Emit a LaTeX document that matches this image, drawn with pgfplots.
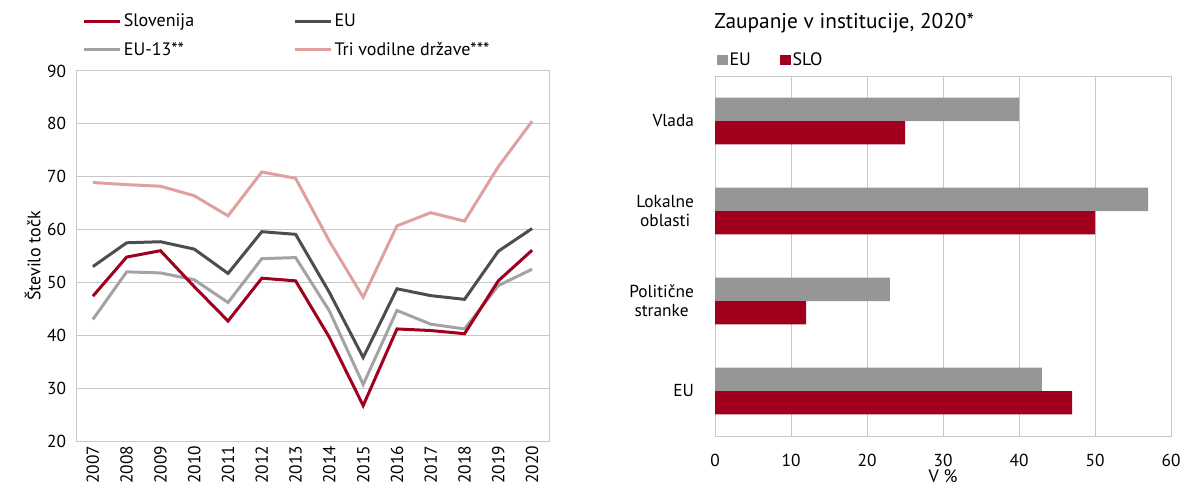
\documentclass[border=0pt]{standalone}
\usepackage{fontspec}
\setmainfont{PT Sans}
\usepackage{pgfplots}
\pgfplotsset{compat=1.18}
\definecolor{slo}{HTML}{A0001E}
\definecolor{eu}{HTML}{4D4D4D}
\definecolor{eu13}{HTML}{A3A3A3}
\definecolor{tri}{HTML}{E0A0A0}
\definecolor{bargray}{HTML}{969696}
\definecolor{gridc}{HTML}{C8C8C8}
\begin{document}
\begin{tikzpicture}
\useasboundingbox (0,0) rectangle (885pt,363.75pt);
\pgfplotsset{every axis/.append style={
  font=\fontsize{13.5}{15}\selectfont,
  tick label style={font=\fontsize{13}{14}\selectfont},
  /pgf/number format/assume math mode=true,
  axis line style={gridc, line width=0.75pt},
  grid style={gridc, line width=0.75pt},
  tick style={draw=none},
}}
\begin{axis}[
  at={(57pt,33pt)}, anchor=south west,
  scale only axis, width=354.75pt, height=277.5pt,
  xmin=-0.5, xmax=13.5, ymin=20, ymax=90,
  xtick={0,1,2,3,4,5,6,7,8,9,10,11,12,13},
  xticklabels={2007,2008,2009,2010,2011,2012,2013,2014,2015,2016,2017,2018,2019,2020},
  x tick label style={rotate=90, anchor=east},
  y tick label style={xshift=-4pt},
  ytick={20,30,...,90},
  ymajorgrids,
  ylabel={Število točk},
  ylabel style={yshift=-2pt},
  legend columns=2,
  legend cell align=left,
  legend image code/.code={\draw[#1] (0pt,0pt) -- (27pt,0pt);},
  legend style={at={(0,1)}, anchor=north west, xshift=2pt, yshift=46pt, draw=none, fill=none,
    row sep=8pt,
    /tikz/column 2/.style={column sep=73pt},
    nodes={inner xsep=1.5pt, inner ysep=1pt}},
]
\addlegendimage{slo, line width=2.25pt}
\addlegendentry{Slovenija}
\addlegendimage{eu, line width=2.25pt}
\addlegendentry{EU}
\addlegendimage{eu13, line width=2.25pt}
\addlegendentry{EU-13**}
\addlegendimage{tri, line width=2.25pt}
\addlegendentry{Tri vodilne države***}
\addplot[tri, line width=2.25pt, forget plot] coordinates {
(0,68.9) (1,68.5) (2,68.2) (3,66.4) (4,62.6) (5,70.9) (6,69.7) (7,57.8) (8,47.2) (9,60.7) (10,63.2) (11,61.6) (12,71.9) (13,80.5)};
\addplot[eu13, line width=2.25pt, forget plot] coordinates {
(0,43.0) (1,52.0) (2,51.8) (3,50.5) (4,46.2) (5,54.5) (6,54.7) (7,44.6) (8,30.7) (9,44.7) (10,42.1) (11,41.2) (12,49.4) (13,52.5)};
\addplot[eu, line width=2.25pt, forget plot] coordinates {
(0,53.0) (1,57.5) (2,57.7) (3,56.3) (4,51.7) (5,59.6) (6,59.1) (7,48.1) (8,35.8) (9,48.8) (10,47.5) (11,46.8) (12,55.9) (13,60.2)};
\addplot[slo, line width=2.25pt, forget plot] coordinates {
(0,47.4) (1,54.8) (2,56.0) (3,49.2) (4,42.7) (5,50.8) (6,50.3) (7,39.6) (8,26.7) (9,41.2) (10,40.9) (11,40.3) (12,50.3) (13,56.1)};
\end{axis}
\begin{axis}[
  at={(536.25pt,36.75pt)}, anchor=south west,
  scale only axis, width=342pt, height=270pt,
  xbar=0pt, bar width=17.5pt,
  xmin=0, xmax=60, xtick={0,10,...,60},
  ymin=-0.5, ymax=3.5, y dir=reverse, ytick={0,1,2,3},
  yticklabels={Vlada,{Lokalne\\oblasti},{Politične\\stranke},EU},
  y tick label style={align=center, xshift=-8pt},
  x tick label style={yshift=-10pt},
  xmajorgrids,
  xlabel={V \%},
  xlabel style={inner sep=0pt, yshift=1.5pt},
  title={Zaupanje v institucije, 2020*},
  title style={at={(0,1)}, anchor=base west, xshift=-4pt, yshift=30pt, font=\fontsize{16}{18}\selectfont},
  legend columns=2,
  legend cell align=left,
  legend image code/.code={\fill[#1] (0pt,-4.1pt) rectangle (8.2pt,4.1pt);},
  legend style={at={(0,1)}, anchor=west, xshift=-2pt, yshift=12pt, draw=none, fill=none,
    /tikz/column 2/.style={column sep=20pt},
    nodes={inner xsep=1.5pt, inner ysep=1pt}},
]
\addplot[fill=bargray, draw=none, bar shift=8.75pt] coordinates {(40,0) (57,1) (23,2) (43,3)};
\addlegendentry{EU}
\addplot[fill=slo, draw=none, bar shift=-8.75pt] coordinates {(25,0) (50,1) (12,2) (47,3)};
\addlegendentry{SLO}
\end{axis}
\end{tikzpicture}
\end{document}
